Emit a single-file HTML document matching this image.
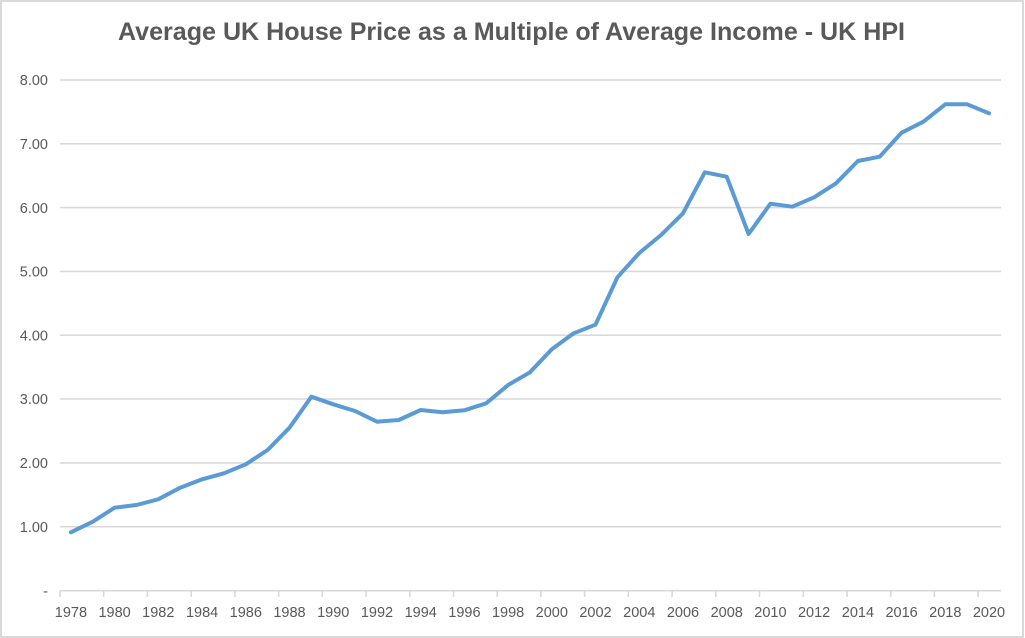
<!DOCTYPE html>
<html>
<head>
<meta charset="utf-8">
<style>
  html, body { margin: 0; padding: 0; background: #ffffff; }
  svg { display: block; }
  text { font-family: "Liberation Sans", "DejaVu Sans", sans-serif; fill: #595959; }
</style>
</head>
<body>
<svg width="1025" height="638" viewBox="0 0 1025 638" xmlns="http://www.w3.org/2000/svg">
  <rect x="0" y="0" width="1025" height="638" fill="#ffffff"/>
  <rect x="1" y="1" width="1022" height="636" fill="none" stroke="#d9d9d9" stroke-width="2"/>

  <!-- Title -->
  <text x="511.5" y="40" text-anchor="middle" font-size="25" font-weight="bold" textLength="787" lengthAdjust="spacingAndGlyphs">Average UK House Price as a Multiple of Average Income - UK HPI</text>

  <!-- Gridlines -->
  <g stroke="#d9d9d9" stroke-width="1.6">
    <line x1="60" y1="80" x2="1001" y2="80"/>
    <line x1="60" y1="143.8" x2="1001" y2="143.8"/>
    <line x1="60" y1="207.6" x2="1001" y2="207.6"/>
    <line x1="60" y1="271.4" x2="1001" y2="271.4"/>
    <line x1="60" y1="335.2" x2="1001" y2="335.2"/>
    <line x1="60" y1="399" x2="1001" y2="399"/>
    <line x1="60" y1="462.9" x2="1001" y2="462.9"/>
    <line x1="60" y1="526.7" x2="1001" y2="526.7"/>
    <line x1="60" y1="590.7" x2="1001" y2="590.7"/>
  </g>
  <!-- Tick marks -->
  <g stroke="#d9d9d9" stroke-width="1.6">
    <line x1="60" y1="590.7" x2="60" y2="597"/>
    <line x1="103.7" y1="590.7" x2="103.7" y2="597"/>
    <line x1="147.4" y1="590.7" x2="147.4" y2="597"/>
    <line x1="191.2" y1="590.7" x2="191.2" y2="597"/>
    <line x1="234.9" y1="590.7" x2="234.9" y2="597"/>
    <line x1="278.6" y1="590.7" x2="278.6" y2="597"/>
    <line x1="322.3" y1="590.7" x2="322.3" y2="597"/>
    <line x1="366" y1="590.7" x2="366" y2="597"/>
    <line x1="409.8" y1="590.7" x2="409.8" y2="597"/>
    <line x1="453.5" y1="590.7" x2="453.5" y2="597"/>
    <line x1="497.2" y1="590.7" x2="497.2" y2="597"/>
    <line x1="540.9" y1="590.7" x2="540.9" y2="597"/>
    <line x1="584.6" y1="590.7" x2="584.6" y2="597"/>
    <line x1="628.4" y1="590.7" x2="628.4" y2="597"/>
    <line x1="672.1" y1="590.7" x2="672.1" y2="597"/>
    <line x1="715.8" y1="590.7" x2="715.8" y2="597"/>
    <line x1="759.5" y1="590.7" x2="759.5" y2="597"/>
    <line x1="803.2" y1="590.7" x2="803.2" y2="597"/>
    <line x1="847" y1="590.7" x2="847" y2="597"/>
    <line x1="890.7" y1="590.7" x2="890.7" y2="597"/>
    <line x1="934.4" y1="590.7" x2="934.4" y2="597"/>
    <line x1="978.1" y1="590.7" x2="978.1" y2="597"/>
  </g>

  <!-- Y labels -->
  <g font-size="14.5" text-anchor="end">
    <text x="48" y="85.2">8.00</text>
    <text x="48" y="149">7.00</text>
    <text x="48" y="212.8">6.00</text>
    <text x="48" y="276.6">5.00</text>
    <text x="48" y="340.4">4.00</text>
    <text x="48" y="404.2">3.00</text>
    <text x="48" y="468.1">2.00</text>
    <text x="48" y="531.9">1.00</text>
    <text x="48" y="595.9">-</text>
  </g>

  <!-- X labels -->
  <g font-size="14.5" text-anchor="middle">
    <text x="70.9" y="617">1978</text>
    <text x="114.6" y="617">1980</text>
    <text x="158.3" y="617">1982</text>
    <text x="202.1" y="617">1984</text>
    <text x="245.8" y="617">1986</text>
    <text x="289.5" y="617">1988</text>
    <text x="333.2" y="617">1990</text>
    <text x="377" y="617">1992</text>
    <text x="420.7" y="617">1994</text>
    <text x="464.4" y="617">1996</text>
    <text x="508.1" y="617">1998</text>
    <text x="551.8" y="617">2000</text>
    <text x="595.5" y="617">2002</text>
    <text x="639.3" y="617">2004</text>
    <text x="683" y="617">2006</text>
    <text x="726.7" y="617">2008</text>
    <text x="770.4" y="617">2010</text>
    <text x="814.1" y="617">2012</text>
    <text x="857.9" y="617">2014</text>
    <text x="901.6" y="617">2016</text>
    <text x="945.3" y="617">2018</text>
    <text x="989" y="617">2020</text>
  </g>

  <!-- Series -->
  <polyline fill="none" stroke="#5b9bd5" stroke-width="4" stroke-linejoin="round" stroke-linecap="round"
    points="70.9,532.3 92.8,521.7 114.6,507.7 136.5,505 158.3,499.3 180.2,487.7 202.1,479.3 223.9,473.3 245.8,464.3 267.6,450 289.5,427.7 311.4,396.7 333.2,404.3 355.1,411 377,421.7 398.8,420 420.7,410 442.5,412.3 464.4,410.3 486.2,403.3 508.1,385 530,372.3 551.8,349.3 573.7,333.3 595.5,324.7 617.4,277.3 639.3,253 661.1,235 683,213.3 704.8,172.3 726.7,176.7 748.6,234 770.4,203.7 792.3,206.7 814.1,197.3 836,183.3 857.9,161 879.7,156.7 901.6,132.7 923.4,121.7 945.3,104.3 967.2,104.3 989,113.3"/>
</svg>
</body>
</html>
